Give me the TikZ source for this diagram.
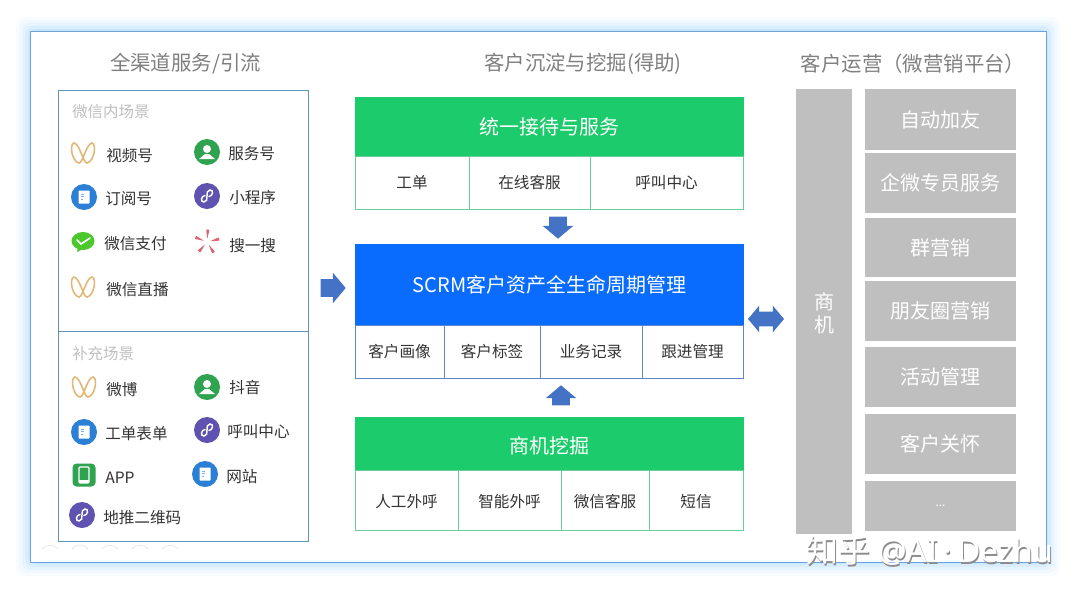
\documentclass[tikz,border=0pt]{standalone}
\usepackage{fontspec}
\setmainfont{Noto Sans CJK SC}
\newfontfamily\latinfont{Noto Sans}
\usepackage{xcolor}
\usepackage{tikz}
\usetikzlibrary{arrows.meta, shapes.arrows, positioning, calc}

\definecolor{framec}{HTML}{6FA3DB}
\definecolor{panelc}{HTML}{5F93BE}
\definecolor{greenc}{HTML}{1CCB6B}
\definecolor{cellg}{HTML}{6CCB9A}
\definecolor{bluec}{HTML}{0A6CFF}
\definecolor{cellb}{HTML}{5F88C8}
\definecolor{arrowc}{HTML}{4472C4}
\definecolor{grayc}{HTML}{BFBFBF}
\definecolor{headc}{HTML}{7F7F7F}
\definecolor{textc}{HTML}{333333}
\definecolor{iconblue}{HTML}{2B80D6}
\definecolor{icongreen}{HTML}{2FA34F}
\definecolor{iconpurple}{HTML}{5F52B0}
\definecolor{iconwx}{HTML}{4CC72E}
\definecolor{iconred}{HTML}{DC6670}
\definecolor{icontan}{HTML}{E2B877}

\tikzset{
  sz/.style 2 args={minimum width=#1*.75pt, minimum height=#2*.75pt},
  lowered/.style={text height=#1, text depth=2pt},
  head/.style={text=headc, font=\fontsize{15.3}{18}\selectfont},
  scenetitle/.style={text=grayc, anchor=west, font=\fontsize{11.6}{14}\selectfont},
  lb/.style={text=textc, anchor=west, inner sep=0pt, font=\fontsize{11.7}{14}\selectfont},
  cell/.style={draw=#1, fill=white, anchor=north west, inner sep=0pt, outer sep=0pt,
    text=textc, line width=.7pt, font=\fontsize{11.7}{14}\selectfont},
  bar/.style={fill=#1, anchor=north west, inner sep=0pt, outer sep=0pt,
    text=white, font=\fontsize{15}{18}\selectfont},
  blockr/.style={single arrow, fill=arrowc, inner xsep=0pt, inner ysep=8.5*.75pt, outer sep=0pt,
    single arrow tip angle=100, minimum height=25*.75pt, single arrow head extend=6.5*.75pt},
  blockd/.style={double arrow, fill=arrowc, inner xsep=0pt, inner ysep=7*.75pt, outer sep=0pt,
    double arrow tip angle=100, minimum height=36*.75pt, double arrow head extend=6*.75pt},
  pics/bfly/.style={code={
    \draw[icontan, line width=1.2pt] (-9,-10) .. controls (-14,-9) and (-11,9) .. (-4,10)
      .. controls (0,10) and (3,-9) .. (9,-10) .. controls (14,-9) and (11,9) .. (4,10)
      .. controls (0,10) and (-3,-9) .. (-9,-10) -- cycle;
  }},
  pics/person/.style={code={
    \fill[icongreen] (0,0) circle (13);
    \fill[white] (0,-3) circle (4);
    \fill[white] (-8,7) -- (-2,2) -- (2,2) -- (8,7) -- cycle;
  }},
  pics/doc/.style={code={
    \fill[iconblue] (0,0) circle (13);
    \fill[white, rounded corners=.5pt] (-5.5,-6.5) rectangle (5.5,6.5);
    \draw[iconblue!60, line width=.4pt] (-3.5,-3) -- (-.5,-3) (-3.5,-.5) -- (-.5,-.5) (-3.5,2) -- (-1.5,2);
  }},
  pics/mini/.style={code={
    \fill[iconpurple] (0,0) circle (13);
    \draw[white, line width=1.1pt, line cap=round] (-2,-.5) .. controls (-6,0) and (-7,6) .. (-3,6)
      .. controls (0,6) and (0,3) .. (0,0) .. controls (0,-3) and (0,-6) .. (3,-6)
      .. controls (7,-6) and (6,0) .. (2,.5);
  }},
  pics/wxpay/.style={code={
    \fill[iconwx] (0,-1) ellipse [x radius=11.5, y radius=9];
    \fill[iconwx] (-5,5) -- (-6,10) -- (0,7) -- cycle;
    \draw[white, line width=1.2pt, line cap=round] (-6,-2) -- (-2,2) -- (7,-4);
  }},
  pics/sou/.style={code={
    \foreach \a in {0,72,144,216,288}
      \fill[iconred, rounded corners=.5pt, rotate=\a-4] (0,-3) -- (-1.7,-12.5) -- (1.7,-12.5) -- cycle;
  }},
  pics/phone/.style={code={
    \fill[icongreen, rounded corners=3pt] (-11.5,-11.5) rectangle (11.5,11.5);
    \draw[white, line width=.9pt, rounded corners=.8pt] (-5,-8) rectangle (5,8);
    \fill[white] (-5,5) rectangle (5,8);
  }}
}

\begin{document}
\begin{tikzpicture}[x=.75pt, y=-.75pt]
  \useasboundingbox (0,0) rectangle (1080,596);
  % glow round the frame
  \foreach \g/\o in {14/8, 11/12, 8/16, 5/22, 2/30}
    \fill[blue!45!cyan!60!white, opacity=\o/200, rounded corners=6pt] (30-\g,31-\g) rectangle (1046+\g,562+\g);
  \node[draw=framec, fill=white, line width=.8pt, inner sep=0pt, sz={1016}{531}, anchor=north west] (frame) at (30,31) {};

  % column titles
  \node[head] (chanhead) at (185.5,63.5) {全渠道服务/引流};
  \node[head] (dephead) at (583,64) {客户沉淀与挖掘(得助)};
  \node[head] (opshead) at (913,64) {客户运营（微营销平台）};

  % left panel
  \node[draw=panelc, line width=.7pt, inner sep=0pt, sz={250}{241}, anchor=north west] (inner) at (58,90) {};
  \node[draw=panelc, line width=.7pt, inner sep=0pt, sz={250}{210}, anchor=north west] (extra) at (58,331) {};
  \node[scenetitle, inner sep=0pt] (innertitle) at (72,112) {微信内场景};
  \node[scenetitle, inner sep=0pt] (extratitle) at (72,354) {补充场景};
  \foreach \ic/\x/\y/\lx/\ly/\txt in {
    bfly/83/153/106/156/视频号, person/207/152/228/154/服务号,
    doc/84/197/105/199/订阅号, mini/207/196/229/198/小程序,
    wxpay/83/242/104/244/微信支付, sou/207/242/229/246/搜一搜,
    bfly/83/287/106/290/微信直播,
    bfly/84/387/106/390/微博, person/207/387/229/388/抖音,
    doc/84/432/105/434/工单表单, mini/207/430/227/432/呼叫中心,
    phone/84/475/105/478/APP, doc/205/474/226/477/网站,
    mini/82/515/103/518/地推二维码}
  {
    \pic at (\x,\y) {\ic};
    \node[lb] (lb\x\y) at (\lx,\ly) {\txt};
  }
  \foreach \x in {50,80,110,140,170}
    \draw[black!10, line width=.5pt] (\x-8,549) .. controls (\x-5,544) and (\x+5,544) .. (\x+8,549);

  % middle column, top
  \node[bar=greenc, sz={389}{59}] (tophead) at (355,97) {统一接待与服务};
  \node[cell=cellg, sz={114}{53}] (gd) at (tophead.south west) {工单};
  \node[cell=cellg, sz={121}{53}, right=0pt of gd] (zx) {在线客服};
  \node[cell=cellg, sz={153}{53}, right=0pt of zx] (hj) {呼叫中心};

  % middle column, centre
  \node[bar=bluec, sz={389}{81}] (midhead) at (355,244) {SCRM客户资产全生命周期管理};
  \node[cell=cellb, sz={89}{53}] (hx) at (midhead.south west) {客户画像};
  \node[cell=cellb, sz={96}{53}, right=0pt of hx] (bq) {客户标签};
  \node[cell=cellb, sz={102}{53}, right=0pt of bq] (yw) {业务记录};
  \node[cell=cellb, sz={101}{53}, right=0pt of yw] (gj) {跟进管理};

  % middle column, bottom
  \node[bar=greenc, sz={389}{53}, lowered=17pt] (lowhead) at (355,417) {商机挖掘};
  \node[cell=cellg, sz={103}{60}, lowered=13pt] (rg) at (lowhead.south west) {人工外呼};
  \node[cell=cellg, sz={103}{60}, lowered=13pt, right=0pt of rg] (zn) {智能外呼};
  \node[cell=cellg, sz={88}{60}, lowered=13pt, right=0pt of zn] (wx) {微信客服};
  \node[cell=cellg, sz={94}{60}, lowered=13pt, right=0pt of wx] (dx) {短信};

  % block arrows
  \node[blockr] (toin) at (329.5,288) {};
  \node[blockr, rotate=-90, minimum height=22*.75pt] (todown) at (558,224) {};
  \node[blockr, rotate=90, minimum height=20*.75pt] (toup) at (561,399) {};
  \node[blockd] (toops) at (766,319) {};

  % right column
  \node[bar=grayc, sz={56}{445}, align=center, font=\fontsize{15}{17.25}\selectfont] (sj) at (796,89) {\rule{0pt}{16pt}商\\机};
  \foreach \nm/\y/\h/\txt in {a/89/61/自动加友, b/153/60/企微专员服务, c/218/59/群营销,
    d/281/60/朋友圈营销, e/347/60/活动管理, f/414/60/客户关怀}
    \node[bar=grayc, sz={151}{\h}] (op\nm) at (865,\y) {\txt};
  \node[bar=grayc, sz={151}{50}, font=\fontsize{9}{11}\selectfont] (opg) at (865,481) {...};

  % watermark
  \node[text=black!45, font=\fontsize{24}{28}\selectfont] (markshadow) at (931,552) {知乎 {\latinfont @AI\,·\,Dezhu}};
  \node[text=white, font=\fontsize{24}{28}\selectfont] (mark) at (930,550.5) {知乎 {\latinfont @AI\,·\,Dezhu}};
\end{tikzpicture}
\end{document}
